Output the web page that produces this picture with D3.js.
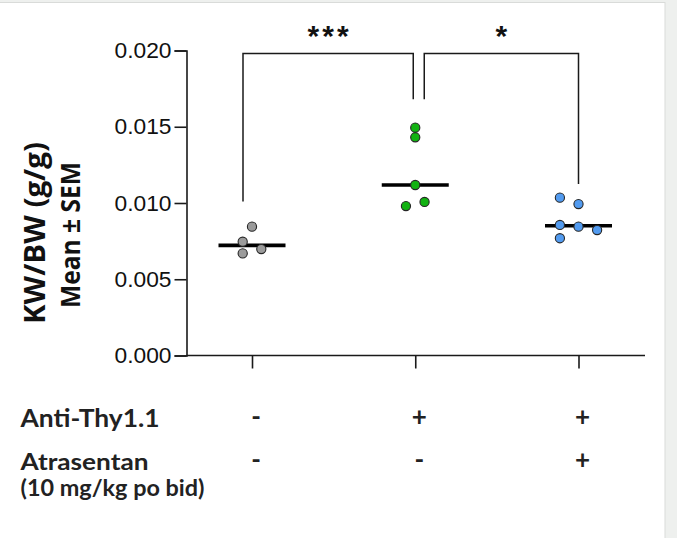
<!DOCTYPE html>

<head>
    <script src="https://d3js.org/d3.v7.min.js"></script>

    <style>
        body {
            margin: 0;
            background-color: #eef0ee;
        }

        svg text {
            font-family: 'Liberation Sans', Arial, sans-serif;
            fill: #111;
        }

        svg text.ylabel {
            font-family: 'Open Sans', sans-serif;
            font-weight: bold;
        }

        svg text.treat {
            font-family: Lato, sans-serif;
            font-weight: bold;
            fill: #222;
        }
    </style>
</head>

<body>
    <svg id="chart" width="677" height="538"></svg>

    <script>
        // groups along the x axis
        var groups = ['Vehicle', 'Anti-Thy1.1', 'Anti-Thy1.1 + Atrasentan'];
        var groupColors = ['#9b9b9b', '#12b212', '#529bf0'];

        // KW/BW values per animal, and the column each dot sits in
        var vehicleValues = [0.00845, 0.00746, 0.00698, 0.00670];
        var vehicleSlots = [0, -1, 1, -1];
        var thyValues = [0.01494, 0.01431, 0.01118, 0.01007, 0.00980];
        var thySlots = [0, 0, 0, 1, -1];
        var atrasentanValues = [0.01035, 0.00993, 0.00856, 0.00845, 0.00823, 0.00769];
        var atrasentanSlots = [-2, 0, -2, 0, 2, -2];

        var yTicks = [0, 0.005, 0.010, 0.015, 0.020];

        // significance brackets: from group, to group, label, leg bottoms
        var comparisons = [[0, 1, '***'], [1, 2, '*']];
        var bracketLegs = [[0.0101, 0.0168], [0.0168, 0.01125]];
        var bracketTop = 0.0198;

        // treatment table under the chart
        var treatments = ['Anti-Thy1.1', 'Atrasentan'];
        var treatmentNote = '(10 mg/kg po bid)';
        var antiThySigns = ['-', '+', '+'];
        var atrasentanSigns = ['-', '-', '+'];

        var svg = d3.select('#chart');

        svg.append('rect')
            .attr('x', -1).attr('y', 2.5)
            .attr('width', 666).attr('height', 540)
            .attr('fill', 'white')
            .attr('stroke', '#d9dbd9');

        var x = d3.scalePoint().domain(groups).range([252, 578.5]);
        var y = d3.scaleLinear().domain([0, 0.020]).range([355.5, 50.5]);
        var slotWidth = 9.3;

        var series = [
            { values: vehicleValues, slots: vehicleSlots },
            { values: thyValues, slots: thySlots },
            { values: atrasentanValues, slots: atrasentanSlots }
        ];

        // y axis
        var yAxis = d3.axisLeft(y).tickValues(yTicks).tickSize(12).tickPadding(3)
            .tickFormat(d3.format('.3f'));
        var gy = svg.append('g')
            .attr('transform', 'translate(186.5,0)')
            .call(yAxis);
        gy.select('.domain').attr('stroke', '#1a1a1a').attr('stroke-width', 1.6);
        gy.selectAll('.tick line').attr('stroke', '#1a1a1a').attr('stroke-width', 1.6);
        gy.selectAll('.tick text')
            .style('font-size', '22px')
            .attr('textLength', 57)
            .attr('lengthAdjust', 'spacingAndGlyphs')
            .attr('fill', '#111');

        // x axis
        var xAxis = d3.axisBottom(x).tickSize(13).tickSizeOuter(0).tickFormat('');
        var gx = svg.append('g')
            .attr('transform', 'translate(0,' + y(0) + ')')
            .call(xAxis);
        gx.select('.domain').remove();
        gx.selectAll('.tick line').attr('stroke', '#1a1a1a').attr('stroke-width', 1.6);
        svg.append('line')
            .attr('x1', 186.5).attr('x2', 645)
            .attr('y1', y(0)).attr('y2', y(0))
            .attr('stroke', '#1a1a1a').attr('stroke-width', 1.6);

        // y axis title
        svg.append('text')
            .attr('class', 'ylabel')
            .attr('transform', 'translate(45,233) rotate(-90)')
            .attr('text-anchor', 'middle')
            .style('font-size', '29px')
            .attr('textLength', 182)
            .attr('lengthAdjust', 'spacingAndGlyphs')
            .text('KW/BW (g/g)');
        svg.append('text')
            .attr('class', 'ylabel')
            .attr('transform', 'translate(80,235) rotate(-90)')
            .attr('text-anchor', 'middle')
            .style('font-size', '27px')
            .attr('textLength', 146)
            .attr('lengthAdjust', 'spacingAndGlyphs')
            .text('Mean \u00b1 SEM');

        // median lines
        svg.append('g')
            .selectAll('line')
            .data(series)
            .join('line')
            .attr('x1', function (d, i) { return x(groups[i]) - 33.5; })
            .attr('x2', function (d, i) { return x(groups[i]) + 33.5; })
            .attr('y1', function (d) { return y(d3.median(d.values)); })
            .attr('y2', function (d) { return y(d3.median(d.values)); })
            .attr('stroke', 'black')
            .attr('stroke-width', 3.6);

        // dots
        series.forEach(function (s, i) {
            svg.append('g')
                .selectAll('circle')
                .data(s.values)
                .join('circle')
                .attr('cx', function (d, j) { return x(groups[i]) + s.slots[j] * slotWidth; })
                .attr('cy', function (d) { return y(d); })
                .attr('r', 4.6)
                .attr('fill', groupColors[i])
                .attr('stroke', '#262626')
                .attr('stroke-width', 1.1);
        });

        // brackets
        var legShift = [[-9, -2], [9, 0]];
        comparisons.forEach(function (c, i) {
            var x1 = x(groups[c[0]]) + legShift[i][0];
            var x2 = x(groups[c[1]]) + legShift[i][1];
            svg.append('path')
                .attr('d', 'M' + x1 + ',' + y(bracketLegs[i][0]) + 'V' + y(bracketTop) +
                    'H' + x2 + 'V' + y(bracketLegs[i][1]))
                .attr('fill', 'none')
                .attr('stroke', '#1a1a1a')
                .attr('stroke-width', 1.5);
            svg.append('text')
                .attr('x', (x1 + x2) / 2 + 1.5)
                .attr('y', 46)
                .attr('text-anchor', 'middle')
                .style('font-size', '30px')
                .style('font-weight', 'bold')
                .style('letter-spacing', '3px')
                .text(c[2]);
        });

        // treatment table
        var rowBase = [427, 470];
        var rowSize = [24, 22];
        var rowWidth = [139, 128];
        var signRows = [antiThySigns, atrasentanSigns];
        treatments.forEach(function (t, i) {
            svg.append('text')
                .attr('class', 'treat')
                .attr('x', 20.5)
                .attr('y', rowBase[i])
                .style('font-size', rowSize[i] + 'px')
                .attr('textLength', rowWidth[i])
                .attr('lengthAdjust', 'spacingAndGlyphs')
                .text(t);
            svg.append('g')
                .selectAll('text')
                .data(signRows[i])
                .join('text')
                .attr('class', 'treat')
                .attr('x', function (d, j) { return x(groups[j]) + 4; })
                .attr('y', rowBase[i] - 1)
                .attr('text-anchor', 'middle')
                .style('font-size', '26px')
                .text(function (d) { return d; });
        });
        svg.append('text')
            .attr('class', 'treat')
            .attr('x', 20.5)
            .attr('y', 496)
            .style('font-size', '22px')
            .attr('textLength', 184)
            .attr('lengthAdjust', 'spacingAndGlyphs')
            .text(treatmentNote);
    </script>
</body>

</html>
